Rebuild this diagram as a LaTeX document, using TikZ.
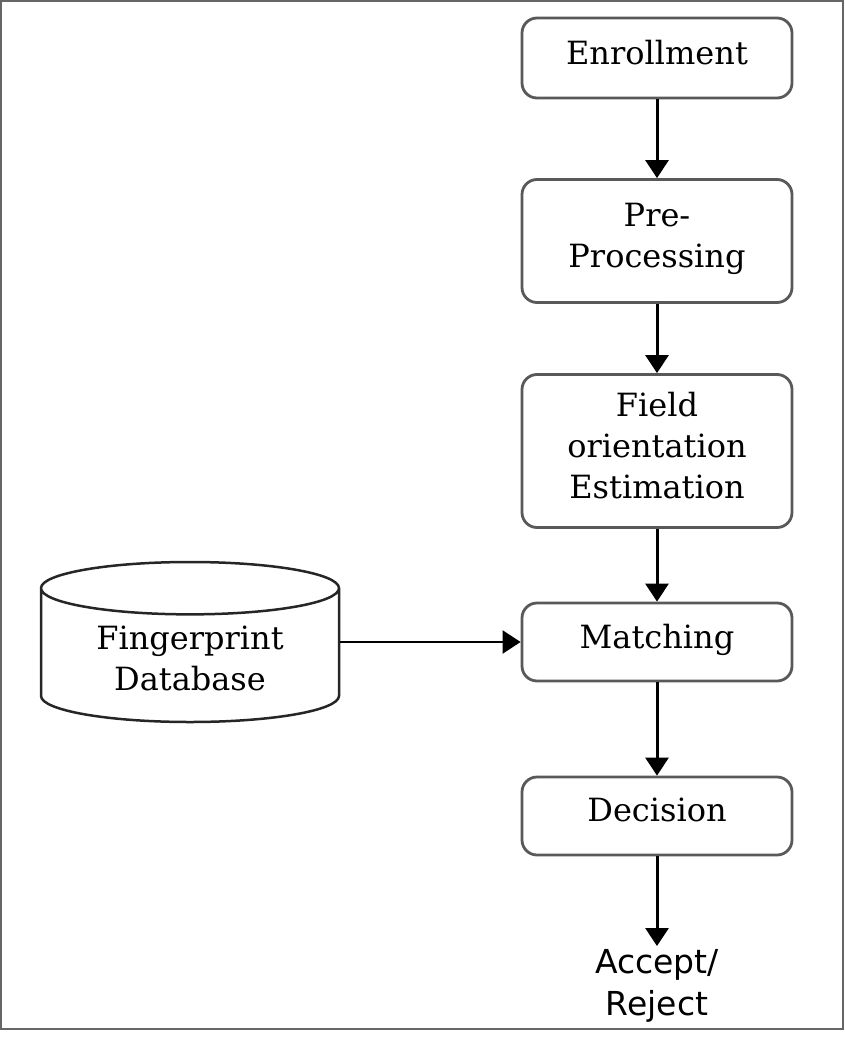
\documentclass[tikz,border=0pt]{standalone}
\usepackage{fontspec}
\setmainfont{DejaVu Serif}
\newfontfamily\resultfont{DejaVu Sans}
\usetikzlibrary{arrows.meta, shapes.geometric}

\begin{document}
\begin{tikzpicture}[x=1pt, y=-1pt,
    stagebox/.style={draw=black!65, line width=2.8pt, rounded corners=15pt, fill=white,
      minimum width=270pt, align=center, text depth=12pt, font=\fontsize{32}{41}\selectfont},
    flow/.style={line width=3pt, -{Triangle[length=18pt, width=23pt]}}]
      % Frame
      \useasboundingbox (0,0) rectangle (844,1041);
      \draw[black!60, line width=1.5pt] (1,1) rectangle (843,1029);

      % Processing stages
      \node[stagebox, minimum height=80pt] (enroll) at (657,58) {Enrollment};
      \node[stagebox, minimum height=123pt] (prep) at (657,241) {Pre-\\Processing};
      \node[stagebox, minimum height=153pt] (field) at (657,451) {Field\\orientation\\Estimation};
      \node[stagebox, minimum height=78pt] (match) at (657,642) {Matching};
      \node[stagebox, minimum height=78pt] (decide) at (657,816) {Decision};
      \node[align=center, font=\resultfont\fontsize{33}{42}\selectfont] (result) at (657,986) {Accept/\\Reject};

      % Stored templates
      \node[cylinder, shape border rotate=90, aspect=0.27, draw=black!85, line width=2.5pt,
        minimum width=298pt, minimum height=160pt, align=center, anchor=shape center,
        font=\fontsize{32}{41}\selectfont] (db) at (190,642) {Fingerprint\\Database};

      % Connectors
      \draw[flow] (enroll) -- (prep);
      \draw[flow] (prep) -- (field);
      \draw[flow] (field) -- (match);
      \draw[flow] (match) -- (decide);
      \draw[flow] (decide) -- (result);
      \draw[flow, line width=2.2pt] (match.west -| db.east) -- (match.west);
\end{tikzpicture}
\end{document}
